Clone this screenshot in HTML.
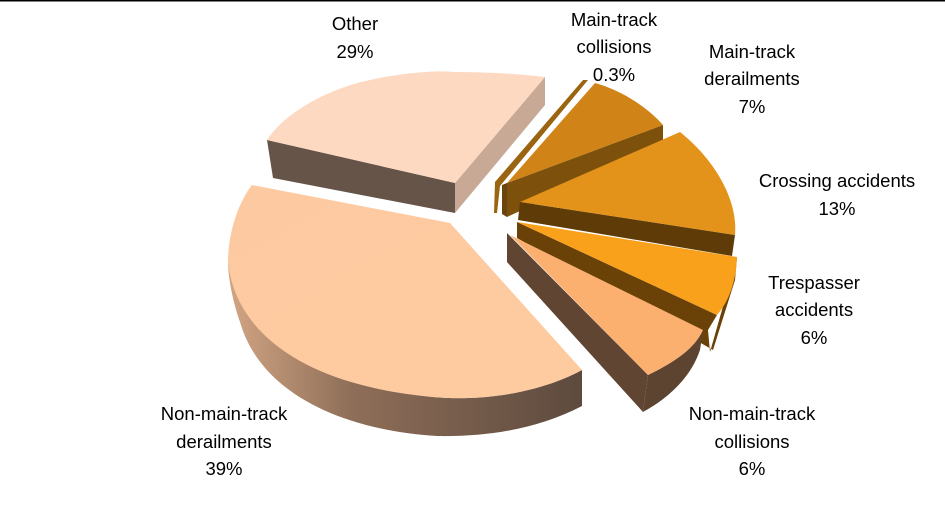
<!DOCTYPE html>
<html><head><meta charset="utf-8"><style>
html,body{margin:0;padding:0;background:#fff;}
svg{display:block;}
text{font-family:"Liberation Sans",sans-serif;font-size:18.5px;fill:#000;text-anchor:middle;}
</style></head><body>
<svg width="945" height="521" viewBox="0 0 945 521" xmlns="http://www.w3.org/2000/svg">
<defs>
<linearGradient id="bs" x1="0" y1="0" x2="1" y2="0">
<stop offset="0" stop-color="#d2a583"/><stop offset="0.35" stop-color="#8e6e58"/><stop offset="1" stop-color="#5d4a3e"/>
</linearGradient>
<linearGradient id="bt" x1="0" y1="0" x2="1" y2="1">
<stop offset="0" stop-color="#fdc9a1"/><stop offset="1" stop-color="#fecba0"/>
</linearGradient>
</defs>
<rect x="0" y="0" width="945" height="1.5" fill="#000"/>

<!-- Other -->
<path d="M267,140 L273,178 L455,213 L455,183 Z" fill="#665449"/>
<path d="M455,183 L455,213 L545,105 L545,77 Z" fill="#c7a996"/>
<path d="M267,140 C285,112 330,88 370,80 C400,73 440,70 453,72 C490,72 520,74 545,77 L455,183 Z" fill="#fed9c2"/>

<!-- Big slice: Non-main-track derailments -->
<path d="M582,370 L582,406 C540,428 490,437 437,436 C340,430 260,392 240,322 C232,300 228,275 228,262 C240,310 300,380 433,397 C490,402 545,390 582,370 Z" fill="url(#bs)"/>
<path d="M252,185 L450,223 L582,370 C545,390 490,402 433,397 C300,385 235,330 228,262 C228,230 240,200 252,185 Z" fill="url(#bt)"/>

<!-- Main-track collisions sliver -->
<path d="M583,80 L588,80 L500,186 L497,213 L494,213 L495,182 Z" fill="#9a6410"/>

<!-- Main-track derailments -->
<path d="M507,183 L663,125 L663,145 L507,217 Z" fill="#7d510b"/>
<path d="M502,185 L507,183 L507,217 L502,214 Z" fill="#6a440a"/>
<path d="M507,183 L595,83 C620,90 645,105 663,125 Z" fill="#d08317"/>

<!-- Crossing accidents -->
<path d="M520,202 L735,235 L732,256 L518,220 Z" fill="#5e3b07"/>
<path d="M520,202 L680,132 C715,160 738,200 735,235 Z" fill="#e4931a"/>

<!-- Trespasser accidents -->
<path d="M517,222 L717,315 L708,330 L710,352 L737,257 L735,280 L713,350 L517,238 Z" fill="#6a4208"/>
<path d="M517,222 L737,257 C736,280 730,300 717,315 Z" fill="#faa11c"/>

<!-- Non-main-track collisions -->
<path d="M507,233 L648,375 L643,412 L507,262 Z" fill="#604532"/>
<path d="M648,375 C675,362 695,348 703,330 L700,350 C690,380 665,400 643,412 Z" fill="#5d4431"/>
<path d="M510,235 L703,330 C695,348 675,362 648,375 Z" fill="#fcb06f"/>

<!-- Labels -->
<text x="355" y="30">Other</text><text x="355" y="58">29%</text>
<text x="614" y="26">Main-track</text><text x="614" y="53">collisions</text><text x="614" y="81">0.3%</text>
<text x="752" y="58">Main-track</text><text x="752" y="85">derailments</text><text x="752" y="113">7%</text>
<text x="837" y="187">Crossing accidents</text><text x="837" y="215">13%</text>
<text x="814" y="289">Trespasser</text><text x="814" y="316">accidents</text><text x="814" y="344">6%</text>
<text x="752" y="420">Non-main-track</text><text x="752" y="448">collisions</text><text x="752" y="475">6%</text>
<text x="224" y="420">Non-main-track</text><text x="224" y="448">derailments</text><text x="224" y="475">39%</text>
</svg>
</body></html>
